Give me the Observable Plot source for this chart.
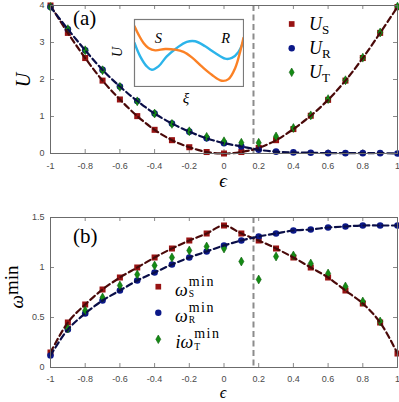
<!DOCTYPE html>
<html><head><meta charset="utf-8">
<script src="https://cdn.jsdelivr.net/npm/d3@7"></script>
<script src="https://cdn.jsdelivr.net/npm/@observablehq/plot@0.6"></script>
<style>
body{margin:0;background:#fff;}
#wrap{position:relative;width:399px;height:402px;overflow:hidden;background:#fff;}
</style></head><body><div id="wrap"></div>
<script>
// ---------- data ----------
const eps = [-1,-0.9,-0.8,-0.7,-0.6,-0.5,-0.4,-0.3,-0.2,-0.1,0,0.1,0.2,0.3,0.4,0.5,0.6,0.7,0.8,0.9,1];
const U_S = [4.00,3.26,2.58,1.97,1.46,1.01,0.64,0.36,0.17,0.04,0.00,0.04,0.15,0.36,0.66,1.02,1.45,1.97,2.58,3.26,3.96];
const U_R = [3.96,3.36,2.79,2.26,1.81,1.42,1.08,0.81,0.59,0.41,0.28,0.19,0.10,0.05,0.03,0.02,0.01,0.01,0.01,0.01,0.00];
const U_T = [3.96,3.36,2.79,2.25,1.80,1.41,1.08,0.80,0.60,0.45,0.33,0.29,0.29,0.46,0.69,1.03,1.47,1.98,2.59,3.27,3.97];
const w_S = [0.15,0.45,0.63,0.78,0.90,1.00,1.10,1.19,1.27,1.34,1.42,1.34,1.27,1.19,1.10,1.00,0.90,0.77,0.64,0.45,0.14];
const w_R = [0.12,0.38,0.54,0.67,0.77,0.87,0.95,1.03,1.10,1.16,1.22,1.27,1.31,1.34,1.37,1.38,1.40,1.41,1.42,1.42,1.42];
const w_T = [null,0.39,0.57,0.70,0.82,0.93,1.02,1.10,1.17,1.21,1.19,1.06,0.88,1.11,1.12,1.04,0.94,0.81,0.66,0.46,null];
const epsC = [0.17];
const xTicks = [-1,-0.8,-0.6,-0.4,-0.2,0,0.2,0.4,0.6,0.8,1];
const yTicksA = [0,1,2,3,4];
const yTicksB = [0,0.5,1,1.5];
// inset sketch (arbitrary units)
const xiOrange = [0,0.037,0.083,0.128,0.19,0.282,0.373,0.45,0.526,0.617,0.709,0.80,0.862,0.924,0.97,1.0];
const uOrange  = [0.90,0.775,0.65,0.576,0.54,0.56,0.55,0.516,0.435,0.30,0.175,0.085,0.11,0.276,0.525,0.726];
const xiBlue = [0,0.052,0.113,0.159,0.22,0.296,0.388,0.48,0.557,0.649,0.74,0.832,0.893,0.954,1.0];
const uBlue  = [0.65,0.45,0.30,0.25,0.30,0.45,0.576,0.666,0.675,0.60,0.50,0.415,0.426,0.516,0.675];

// ---------- styles ----------
const RED = "#981313", NAVY = "#0b1888", GREEN = "#148c14", GREEN_E = "#0c5e0c";
const RED_L = "#4a0909", NAVY_L = "#0a0e48", AX = "#6b6b6b";
const ORANGE = "#fb8125", SKY = "#2cb4ea";
const SERIF = "'Liberation Serif','DejaVu Serif',serif";

const tableA = eps.map((e,i)=>({eps:e, s:U_S[i], r:U_R[i], t:U_T[i]}));
const tableB = eps.map((e,i)=>({eps:e, s:w_S[i], r:w_R[i], t:w_T[i]}));
const fmt = d => String(d);

function panel({height, marginTop, marginBottom, yDomain, yTicks, tickPadX, data}) {
  const W = 399, mL = 50, mR = 2;
  const ih = height - marginTop - marginBottom, iw = W - mL - mR;
  const dash = "6,3.5";
  return Plot.plot({
    width: W, height, marginLeft: mL, marginRight: mR, marginTop, marginBottom,
    x: {domain: [-1, 1]}, y: {domain: yDomain},
    style: {fontFamily: "'Liberation Sans',Arial,sans-serif", fontSize: "9px", color: "#4a4a4a", background: "transparent"},
    marks: [
      Plot.ruleX(epsC, {x: d => d, stroke: "#8c8c8c", strokeWidth: 2, strokeDasharray: "6,3.5"}),
      Plot.tickX(xTicks, {x: d => d, insetTop: ih - 4, stroke: AX, strokeWidth: 0.8}),
      Plot.tickX(xTicks, {x: d => d, insetBottom: ih - 4, stroke: AX, strokeWidth: 0.8}),
      Plot.tickY(yTicks, {y: d => d, insetRight: iw - 4, stroke: AX, strokeWidth: 0.8}),
      Plot.tickY(yTicks, {y: d => d, insetLeft: iw - 4, stroke: AX, strokeWidth: 0.8}),
      Plot.axisX({ticks: xTicks, tickSize: 0, tickPadding: tickPadX, tickFormat: fmt, label: null}),
      Plot.axisY({ticks: yTicks, tickSize: 0, tickPadding: 6, tickFormat: fmt, label: null}),
      Plot.dot(data, {x: "eps", y: "s", symbol: "square", r: 3.4, fill: RED}),
      Plot.dot(data, {x: "eps", y: "r", symbol: "circle", r: 3.3, fill: NAVY}),
      Plot.dot(data.filter(d => d.t != null), {x: "eps", y: "t", symbol: "diamond", r: 2.7, fill: GREEN, stroke: GREEN_E, strokeWidth: 0.6}),
      Plot.line(data, {x: "eps", y: "s", curve: "catmull-rom", stroke: RED_L, strokeWidth: 2.2, strokeDasharray: dash}),
      Plot.line(data, {x: "eps", y: "r", curve: "catmull-rom", stroke: NAVY_L, strokeWidth: 2.2, strokeDasharray: dash}),
      Plot.frame({stroke: AX, strokeWidth: 1})
    ]
  });
}

const wrap = document.getElementById("wrap");
function place(node, left, top) {
  node.style.position = "absolute"; node.style.left = left + "px"; node.style.top = top + "px";
  wrap.appendChild(node);
}

place(panel({height: 200, marginTop: 5, marginBottom: 47, yDomain: [0, 4], yTicks: yTicksA, tickPadX: 9, data: tableA}), 0, 0);
place(panel({height: 202, marginTop: 17, marginBottom: 35, yDomain: [0, 1.5], yTicks: yTicksB, tickPadX: 8, data: tableB}), 0, 200);

const orangeT = xiOrange.map((x,i)=>({xi:x, u:uOrange[i]}));
const blueT = xiBlue.map((x,i)=>({xi:x, u:uBlue[i]}));
const inset = Plot.plot({
  width: 111, height: 69, margin: 1,
  x: {domain: [0, 1], axis: null}, y: {domain: [0, 1], axis: null},
  style: {background: "white"},
  marks: [
    Plot.line(blueT, {x: "xi", y: "u", curve: "catmull-rom", stroke: SKY, strokeWidth: 2.4, clip: true}),
    Plot.line(orangeT, {x: "xi", y: "u", curve: "catmull-rom", stroke: ORANGE, strokeWidth: 2.4, clip: true}),
    Plot.frame({stroke: "#7a7a7a", strokeWidth: 1.2})
  ]
});
place(inset, 133, 18);

// ---------- text overlay ----------
const ov = d3.create("svg").attr("width", 399).attr("height", 402)
  .style("pointer-events", "none").attr("font-family", SERIF).attr("fill", "#000");
place(ov.node(), 0, 0);

function text(x, y, str, {size = 18, italic = false, anchor = "start"} = {}) {
  return ov.append("text").attr("x", x).attr("y", y).attr("font-size", size)
    .attr("font-style", italic ? "italic" : "normal").attr("text-anchor", anchor).text(str);
}
// panel tags
text(73, 25, "(a)", {size: 21});
text(73, 243, "(b)", {size: 21});
// x labels
text(223, 187, "\u03F5", {size: 19, italic: true, anchor: "middle"});
text(223, 398, "\u03F5", {size: 16.5, italic: true, anchor: "middle"});
// y labels
ov.append("g").attr("transform", "translate(30,80) rotate(-90)")
  .append("text").attr("text-anchor", "middle").attr("font-size", 20).attr("font-style", "italic").text("U");
{
  const t = ov.append("g").attr("transform", "translate(23,287) rotate(-90)")
    .append("text").attr("text-anchor", "middle").attr("font-size", 19);
  t.append("tspan").attr("font-style", "italic").text("\u03C9");
  t.append("tspan").attr("dy", -5).text("min");
}
// inset labels
text(154.7, 43.3, "S", {size: 14.5, italic: true});
text(221.3, 43.3, "R", {size: 14.5, italic: true});
ov.append("g").attr("transform", "translate(122,52) rotate(-90)")
  .append("text").attr("text-anchor", "middle").attr("font-size", 14).attr("font-style", "italic").text("U");
text(186, 103, "\u03BE", {size: 15, italic: true, anchor: "middle"});

// legend markers
function marker(kind, cx, cy) {
  const sym = kind === "s" ? d3.symbolSquare : kind === "r" ? d3.symbolCircle : d3.symbolDiamond;
  const r = kind === "s" ? 3.2 : kind === "r" ? 3.2 : 2.6;
  const fill = kind === "s" ? RED : kind === "r" ? NAVY : GREEN;
  const p = ov.append("path").attr("d", d3.symbol(sym, Math.PI * r * r)()).attr("fill", fill)
    .attr("transform", `translate(${cx},${cy})`);
  if (kind === "t") p.attr("stroke", GREEN_E).attr("stroke-width", 0.6);
}
// legend (a)
const legA = [["s", "S", 24], ["r", "R", 48.3], ["t", "T", 72.3]];
for (const [k, sub, y] of legA) {
  marker(k, 291.7, y);
  const t = ov.append("text").attr("x", 309).attr("y", y + 6).attr("font-size", 18);
  t.append("tspan").attr("font-style", "italic").text("U");
  t.append("tspan").attr("font-size", 13).attr("dy", 3.5).text(sub);
}
// legend (b)
const legB = [["s", "S", 286.7, ""], ["r", "R", 312.7, ""], ["t", "T", 339.3, "i"]];
for (const [k, sub, y, pre] of legB) {
  marker(k, 158.3, y);
  const x0 = pre ? 175.5 : 175;
  const base = text(x0, y + 9, pre + "\u03C9", {size: 18, italic: true});
  const xs = x0 + base.node().getComputedTextLength() + 1;
  text(xs, y - 1, "min", {size: 14}).attr("letter-spacing", 1.5);
  text(xs, y + 10.5, sub, {size: 9.5});
}
</script>
</body></html>
